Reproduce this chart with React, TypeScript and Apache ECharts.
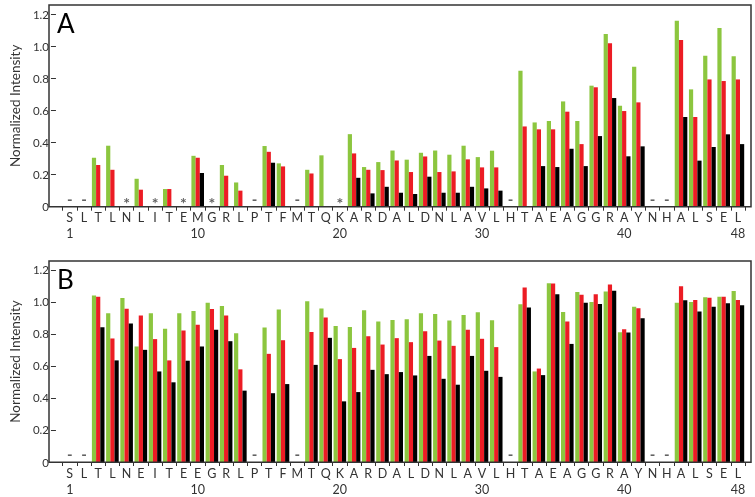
import React, { useEffect, useRef } from 'react';
import * as echarts from 'echarts';

const positions = Array.from({ length: 48 }, (_, i) => String(i + 1));
const residuesA = ['S','L','T','L','N','L','I','T','E','M','G','R','L','P','T','F','M','T','Q','K','A','R','D','A','L','D','N','L','A','V','L','H','T','A','E','A','G','G','R','A','Y','N','H','A','L','S','E','L'];
const residuesB = ['S','L','T','L','N','E','I','T','E','E','G','R','L','P','T','F','M','T','Q','K','A','R','D','A','L','D','N','L','A','V','L','H','T','A','E','A','G','G','R','A','Y','N','H','A','L','S','E','L'];
const numberedPositions = [1, 10, 20, 30, 40, 48];
const yTicks = [0, 0.2, 0.4, 0.6, 0.8, 1.0, 1.2];

const n = null;
const greenA = [n, n, 0.305, 0.38, n, 0.174, n, 0.11, n, 0.317, n, 0.26, 0.151, n, 0.378, 0.27, n, 0.23, 0.32, n, 0.452, 0.247, 0.278, 0.35, 0.293, 0.336, 0.35, 0.324, 0.38, 0.309, 0.349, n, 0.847, 0.525, 0.534, 0.656, 0.534, 0.754, 1.076, 0.629, 0.872, n, n, 1.159, 0.731, 0.941, 1.113, 0.937];
const redA = [n, n, 0.26, 0.23, n, 0.106, n, 0.11, n, 0.305, n, 0.193, 0.10, n, 0.342, 0.251, n, 0.207, n, n, 0.332, 0.23, 0.228, 0.288, 0.216, 0.313, 0.216, 0.22, 0.295, 0.245, 0.245, n, 0.50, 0.482, 0.482, 0.592, 0.39, 0.744, 1.018, 0.596, 0.65, n, n, 1.038, 0.559, 0.793, 0.783, 0.793];
const blackA = [n, n, n, n, n, n, n, n, n, 0.21, n, n, n, n, 0.274, n, n, n, n, n, 0.18, 0.083, 0.124, 0.087, 0.079, 0.187, 0.087, 0.087, 0.124, 0.114, 0.10, n, n, 0.253, 0.247, 0.361, 0.253, 0.44, 0.677, 0.314, 0.376, n, n, 0.559, 0.287, 0.372, 0.451, 0.39];
const marksA = ['-', '-', '', '', '*', '', '*', '', '*', '', '*', '', '', '-', '', '', '-', '', '', '*', '', '', '', '', '', '', '', '', '', '', '', '-', '', '', '', '', '', '', '', '', '', '-', '-', '', '', '', '', ''];

const greenB = [n, n, 1.04, 0.93, 1.025, 0.722, 0.93, 0.832, 0.93, 0.944, 0.996, 0.975, 0.805, n, 0.84, 0.953, n, 1.005, 0.959, 0.85, 0.844, 0.948, 0.878, 0.888, 0.892, 0.93, 0.925, 0.884, 0.919, 0.936, 0.886, n, 0.986, 0.566, 1.117, 0.938, 1.063, 1.0, 1.065, 0.811, 0.971, n, n, 0.996, 1.0, 1.03, 1.032, 1.069];
const redB = [n, n, 1.033, 0.772, 0.958, 0.915, 0.768, 0.635, 0.822, 0.857, 0.956, 0.915, 0.579, n, 0.676, 0.761, n, 0.813, 0.903, 0.643, 0.713, 0.786, 0.734, 0.774, 0.749, 0.817, 0.759, 0.726, 0.826, 0.77, 0.718, n, 1.09, 0.584, 1.115, 0.878, 1.046, 1.048, 1.109, 0.83, 0.961, n, n, 1.098, 1.013, 1.027, 1.032, 1.013];
const blackB = [n, n, 0.842, 0.635, 0.865, 0.701, 0.566, 0.498, 0.633, 0.722, 0.826, 0.755, 0.446, n, 0.43, 0.487, n, 0.607, 0.776, 0.379, 0.437, 0.576, 0.549, 0.562, 0.541, 0.663, 0.52, 0.483, 0.663, 0.57, 0.532, n, 0.965, 0.543, 1.048, 0.738, 0.996, 0.988, 1.071, 0.809, 0.899, n, n, 1.011, 0.94, 0.971, 0.992, 0.98];
const marksB = ['-', '-', '', '', '', '', '', '', '', '', '', '', '', '-', '', '', '-', '', '', '', '', '', '', '', '', '', '', '', '', '', '', '-', '', '', '', '', '', '', '', '', '', '-', '-', '', '', '', '', ''];

const FONT = 'Lato, "Open Sans", sans-serif';
const TEXT = '#333';
const GREEN = '#8CC63F';
const RED = '#EC1C24';
const BLACK = '#000000';

export default function App() {
  const ref = useRef<HTMLDivElement>(null);
  useEffect(() => {
    const chart = echarts.init(ref.current!, null, { renderer: 'svg' });

    const makeX = (gridIndex: number, residues: string[]) => ({
      type: 'category',
      gridIndex,
      data: positions,
      boundaryGap: true,
      axisLine: { show: false },
      axisTick: { show: true, interval: 0, length: 4, lineStyle: { color: TEXT, width: 1 } },
      axisLabel: {
        interval: 0,
        margin: 3,
        fontFamily: FONT,
        fontSize: 12.5,
        color: TEXT,
        lineHeight: 16,
        formatter: (_v: string, i: number) =>
          residues[i] + (numberedPositions.includes(i + 1) ? '\n' + (i + 1) : ''),
      },
      splitLine: { show: false },
    });

    const makeY = (gridIndex: number, max: number) => ({
      type: 'value',
      gridIndex,
      min: 0,
      max,
      offset: 6.7,
      axisLine: { show: false },
      axisTick: { show: true, length: 5, customValues: yTicks, lineStyle: { color: TEXT, width: 1 } },
      axisLabel: {
        customValues: yTicks,
        formatter: (v: number) => (v === 0 ? '0' : v.toFixed(1)),
        margin: 7,
        fontSize: 11.5,
        fontFamily: FONT,
        color: TEXT,
      },
      splitLine: { show: false },
      name: 'Normalized Intensity',
      nameLocation: 'middle',
      nameGap: 31,
      nameTextStyle: { fontFamily: FONT, fontSize: 13.5, color: TEXT },
    });

    const bars = (xi: number, data: (number | null)[], color: string) => ({
      type: 'bar',
      xAxisIndex: xi,
      yAxisIndex: xi,
      data,
      barWidth: 4.2,
      barGap: '0%',
      itemStyle: { color },
    });

    const marks = (xi: number, m: string[]) => ({
      type: 'scatter',
      xAxisIndex: xi,
      yAxisIndex: xi,
      symbol: 'circle',
      symbolSize: 1,
      itemStyle: { color: 'rgba(0,0,0,0)' },
      silent: true,
      data: m
        .map((s, i) => ({ s, i }))
        .filter((d) => d.s !== '')
        .map((d) => ({
          value: [d.i, 0.05],
          label: {
            show: true,
            position: 'inside',
            formatter: d.s,
            fontFamily: FONT,
            fontSize: d.s === '*' ? 16 : 15,
            lineHeight: 9,
            fontWeight: 'bold',
            color: '#3a3a3a',
            offset: d.s === '*' ? [0, 3.5] : [0, 0],
          },
        })),
    });

    chart.setOption({
      animation: false,
      grid: [
        { left: 55.7, right: 10, top: 5, height: 201.7 },
        { left: 55.7, right: 10, top: 261, height: 201.3 },
      ],
      xAxis: [makeX(0, residuesA), makeX(1, residuesB)],
      yAxis: [makeY(0, 1.2567), makeY(1, 1.2562)],
      series: [
        bars(0, greenA, GREEN),
        bars(0, redA, RED),
        bars(0, blackA, BLACK),
        bars(1, greenB, GREEN),
        bars(1, redB, RED),
        bars(1, blackB, BLACK),
        marks(0, marksA),
        marks(1, marksB),
      ],
      graphic: [
        { type: 'rect', shape: { x: 49, y: 5, width: 702, height: 201.7 }, style: { fill: 'none', stroke: '#333', lineWidth: 1.5 }, z: 100 },
        { type: 'rect', shape: { x: 49, y: 261, width: 702, height: 201.3 }, style: { fill: 'none', stroke: '#333', lineWidth: 1.5 }, z: 100 },
        { type: 'text', left: 57, top: 10, style: { text: 'A', fontFamily: FONT, fontSize: 26, fill: '#000' }, z: 100 },
        { type: 'text', left: 57, top: 266, style: { text: 'B', fontFamily: FONT, fontSize: 26, fill: '#000' }, z: 100 },
      ],
    });
    return () => chart.dispose();
  }, []);
  return <div ref={ref} style={{ position: 'fixed', left: 0, top: 0, width: 755, height: 497 }} />;
}
